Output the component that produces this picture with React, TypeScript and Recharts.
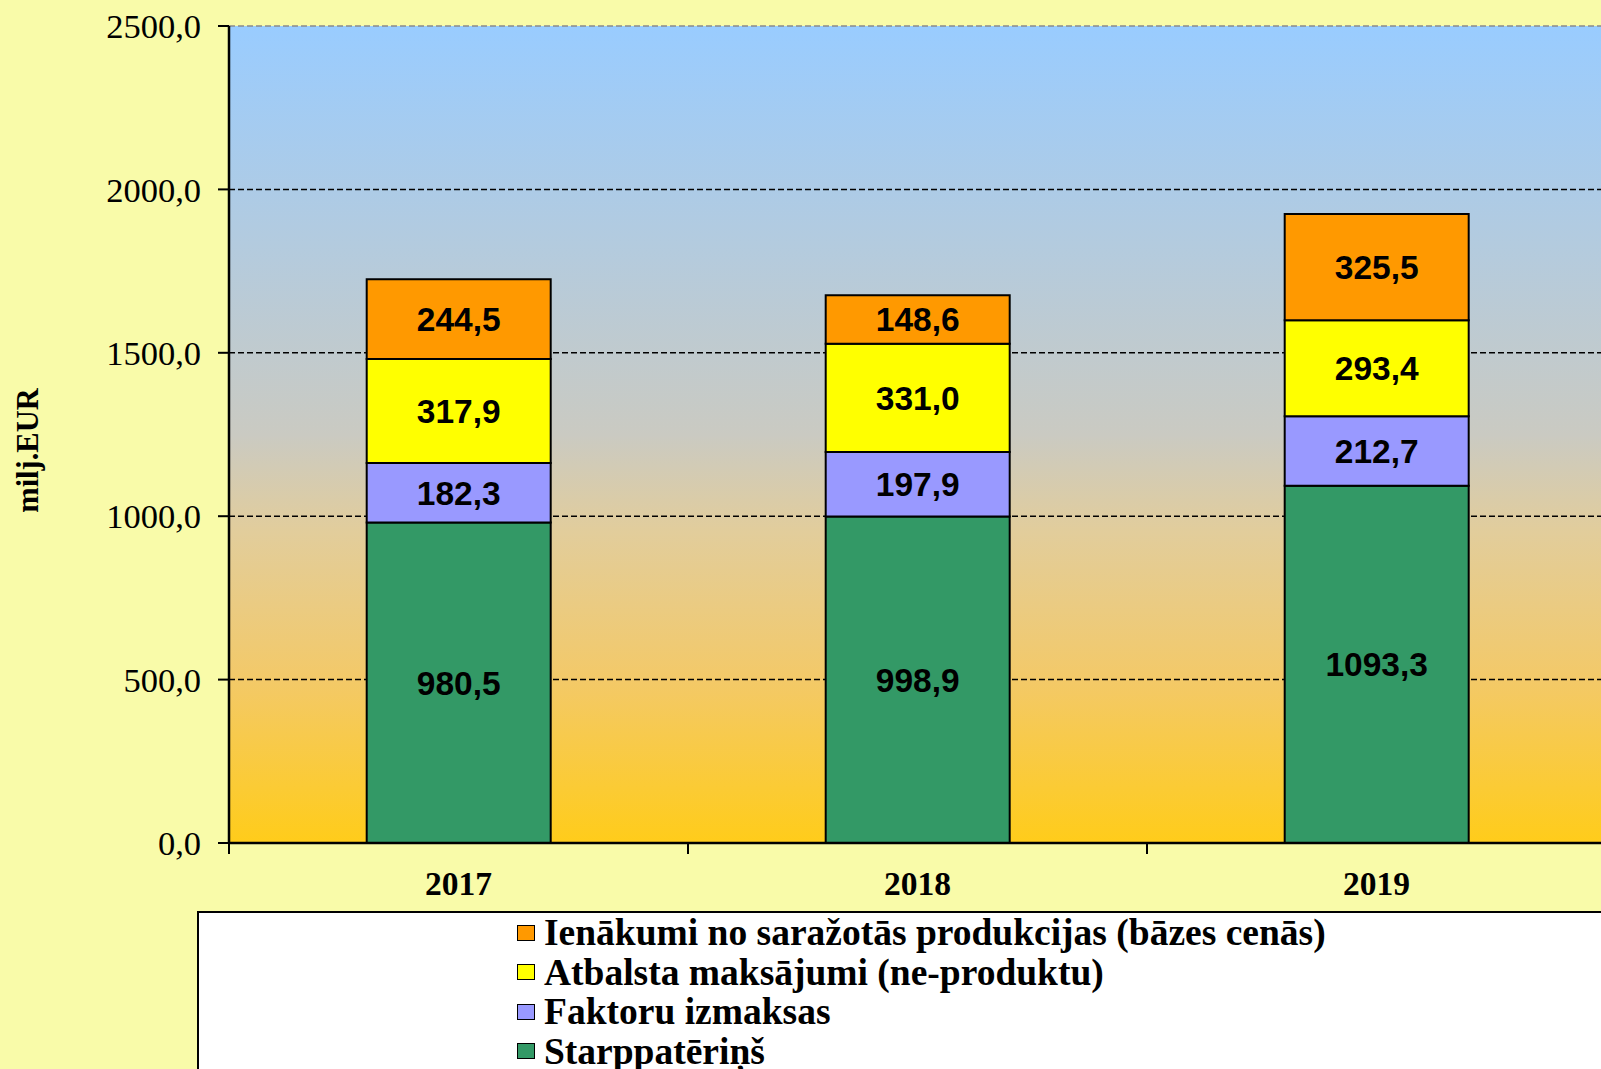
import { BarChart, Bar, XAxis, YAxis, CartesianGrid, ReferenceLine, LabelList } from 'recharts';

const years = ['2017', '2018', '2019'];
const starppaterins = [980.5, 998.9, 1093.3];
const faktoruIzmaksas = [182.3, 197.9, 212.7];
const atbalstaMaksajumi = [317.9, 331.0, 293.4];
const ienakumi = [244.5, 148.6, 325.5];
const yTicks = [0, 500, 1000, 1500, 2000, 2500];
const gridValues = [500, 1000, 1500, 2000];

// bottom to top of the stack
const series = [
  { key: 'starp', name: 'Starppatēriņš', color: '#339966', values: starppaterins },
  { key: 'faktoru', name: 'Faktoru izmaksas', color: '#9999FF', values: faktoruIzmaksas },
  { key: 'atbalsta', name: 'Atbalsta maksājumi (ne-produktu)', color: '#FFFF00', values: atbalstaMaksajumi },
  { key: 'ienakumi', name: 'Ienākumi no saražotās produkcijas (bāzes cenās)', color: '#FF9900', values: ienakumi },
];

const data = years.map((year, i) => {
  const row: Record<string, string | number> = { year };
  series.forEach((s) => {
    row[s.key] = s.values[i];
  });
  return row;
});

const CHART_W = 1610;
const CHART_H = 1069;
const Y_AXIS_W = 229;
const MARGIN = { top: 26, right: 4, left: 0, bottom: 166 };
const bandWidth = (CHART_W - Y_AXIS_W - MARGIN.left - MARGIN.right) / years.length;

const serif = '"Liberation Serif", "Times New Roman", serif';
const sans = '"Liberation Sans", Arial, sans-serif';

const fmt = (v: number) => v.toFixed(1).replace('.', ',');

const XTick = (props: any) => {
  const { x, y, payload } = props;
  const bx = x - bandWidth / 2;
  return (
    <g>
      <line x1={bx} y1={y} x2={bx} y2={y + 11} stroke="#000" strokeWidth={2} />
      <text x={x} y={y + 52} textAnchor="middle" fontFamily={serif} fontWeight="bold" fontSize={33.5} fill="#000">
        {payload.value}
      </text>
    </g>
  );
};

const App = () => {
  return (
    <div
      style={{
        position: 'absolute',
        left: 0,
        top: 0,
        width: 1601,
        height: 1069,
        overflow: 'hidden',
        background: '#F9FBA9',
      }}
    >
      <BarChart width={CHART_W} height={CHART_H} data={data} margin={MARGIN} barCategoryGap="30%">
        <defs>
          <linearGradient id="plotBg" x1="0" y1="0" x2="0" y2="1">
            <stop offset="0%" stopColor="#99CCFF" />
            <stop offset="50%" stopColor="#CACAC2" />
            <stop offset="62%" stopColor="#E2CD9B" />
            <stop offset="80%" stopColor="#F3C968" />
            <stop offset="100%" stopColor="#FFCC1A" />
          </linearGradient>
        </defs>
        <CartesianGrid
          vertical={false}
          horizontalValues={gridValues}
          stroke="#000"
          strokeWidth={1.5}
          strokeDasharray="6 3"
          fill="url(#plotBg)"
          fillOpacity={1}
        />
        <ReferenceLine y={2500} stroke="#8a8a8a" strokeWidth={1.5} strokeDasharray="6 3" />
        <XAxis
          dataKey="year"
          height={60}
          tickLine={false}
          tickSize={0}
          tickMargin={0}
          axisLine={{ stroke: '#000', strokeWidth: 2.5 }}
          tick={<XTick />}
          interval={0}
        />
        <YAxis
          width={Y_AXIS_W}
          domain={[0, 2500]}
          ticks={yTicks}
          interval={0}
          tickFormatter={fmt}
          tickSize={11}
          tickMargin={17}
          axisLine={{ stroke: '#000', strokeWidth: 2.5 }}
          tickLine={{ stroke: '#000', strokeWidth: 2 }}
          tick={{ fontFamily: serif, fontSize: 34.5, fill: '#000' }}
          label={{
            content: (p: any) => {
              const vb = p.viewBox || { x: 0, y: 26, height: 817 };
              const cx = vb.x + 28;
              const cy = vb.y + vb.height / 2 + 16;
              return (
                <text
                  x={cx}
                  y={cy}
                  transform={`rotate(-90, ${cx}, ${cy})`}
                  textAnchor="middle"
                  dominantBaseline="central"
                  fontFamily={serif}
                  fontWeight="bold"
                  fontSize={30.5}
                  fill="#000"
                >
                  milj.EUR
                </text>
              );
            },
          }}
        />
        {series.map((s) => (
          <Bar
            key={s.key}
            dataKey={s.key}
            name={s.name}
            stackId="a"
            fill={s.color}
            stroke="#000"
            strokeWidth={2}
            isAnimationActive={false}
          >
            <LabelList
              dataKey={s.key}
              position="center"
              formatter={(v: any) => fmt(Number(v))}
              style={{ fontFamily: sans, fontWeight: 'bold', fontSize: 33.5, fill: '#000' }}
            />
          </Bar>
        ))}
      </BarChart>
      <div
        style={{
          position: 'absolute',
          left: 197,
          top: 911,
          width: 1440,
          height: 200,
          boxSizing: 'border-box',
          background: '#fff',
          border: '2px solid #000',
        }}
      >
        {[...series].reverse().map((s) => (
          <div
            key={s.key}
            style={{ display: 'flex', alignItems: 'center', height: 39.5, marginLeft: 318 }}
          >
            <div
              style={{
                width: 18,
                height: 16,
                boxSizing: 'border-box',
                background: s.color,
                border: '1.5px solid #000',
                flex: 'none',
              }}
            />
            <span
              style={{
                marginLeft: 9,
                fontFamily: serif,
                fontWeight: 'bold',
                fontSize: 37.5,
                lineHeight: '39.5px',
                whiteSpace: 'nowrap',
                color: '#000',
              }}
            >
              {s.name}
            </span>
          </div>
        ))}
      </div>
    </div>
  );
};

export default App;
